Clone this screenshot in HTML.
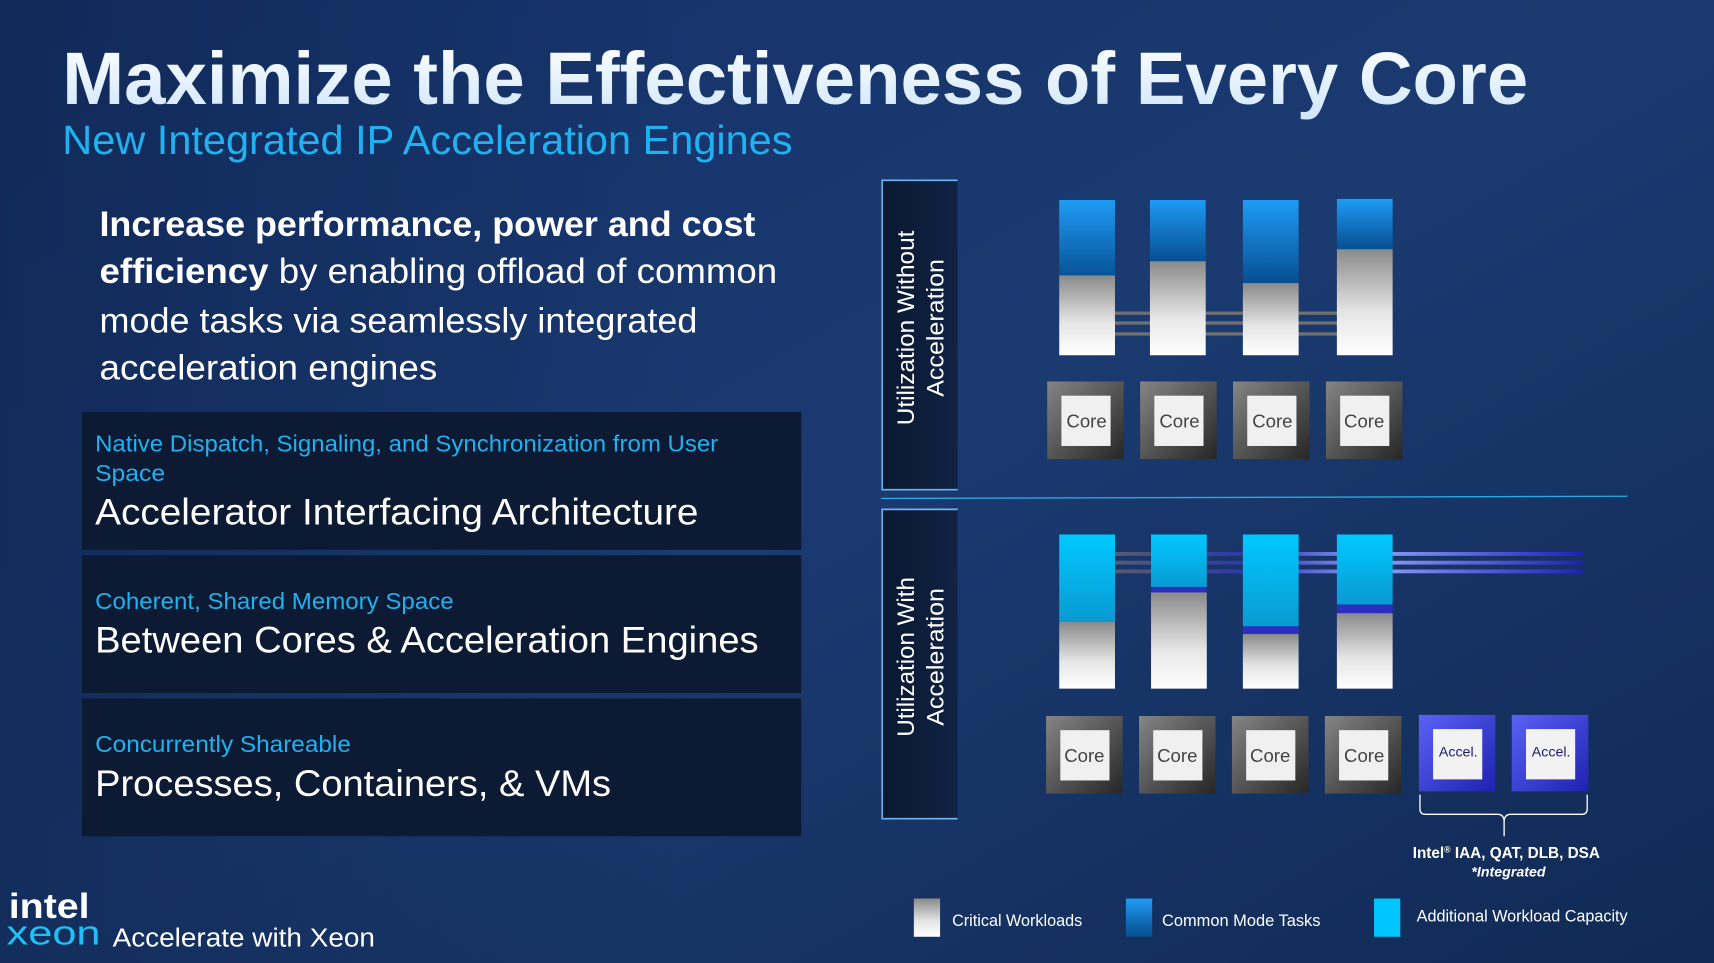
<!DOCTYPE html>
<html><head><meta charset="utf-8"><style>html,body{margin:0;padding:0;background:#142f5e}svg{display:block}</style></head><body>
<svg width="1714" height="963" viewBox="0 0 1568 881" preserveAspectRatio="none" xmlns="http://www.w3.org/2000/svg" font-family="Liberation Sans, sans-serif">
<defs>
<linearGradient id="bg" x1="0" y1="0" x2="1" y2="1"><stop offset="0" stop-color="#15326a"/><stop offset="0.5" stop-color="#1a3a70"/><stop offset="1" stop-color="#112a55"/></linearGradient>
<linearGradient id="bgl" x1="0" y1="0" x2="1" y2="0"><stop offset="0" stop-color="#0c2148" stop-opacity="0.5"/><stop offset="0.4" stop-color="#0c2148" stop-opacity="0"/></linearGradient>
<linearGradient id="ttl" x1="0" y1="0" x2="0" y2="1"><stop offset="0" stop-color="#ffffff"/><stop offset="1" stop-color="#cfe6fb"/></linearGradient>
<linearGradient id="blu" x1="0" y1="0" x2="0" y2="1"><stop offset="0" stop-color="#1f9bf5"/><stop offset="1" stop-color="#064d8f"/></linearGradient>
<linearGradient id="gry" x1="0" y1="0" x2="0" y2="1"><stop offset="0" stop-color="#8a8a8a"/><stop offset="0.6" stop-color="#e6e6e6"/><stop offset="1" stop-color="#ffffff"/></linearGradient>
<linearGradient id="cyn" x1="0" y1="0" x2="0" y2="1"><stop offset="0" stop-color="#00c8ff"/><stop offset="1" stop-color="#0a9ad2"/></linearGradient>
<linearGradient id="core" x1="0" y1="0" x2="1" y2="1"><stop offset="0" stop-color="#858585"/><stop offset="1" stop-color="#262626"/></linearGradient>
<linearGradient id="acc" x1="0" y1="0" x2="1" y2="1"><stop offset="0" stop-color="#5a62f5"/><stop offset="1" stop-color="#1f22b0"/></linearGradient>
<linearGradient id="lnb" x1="0" y1="0" x2="1" y2="0"><stop offset="0" stop-color="#555c70"/><stop offset="0.3" stop-color="#2a35b0"/><stop offset="0.55" stop-color="#8fa0f8"/><stop offset="1" stop-color="#1a22b8"/></linearGradient>
<linearGradient id="pnl" x1="0" y1="0" x2="1" y2="0"><stop offset="0" stop-color="#0a1830"/><stop offset="1" stop-color="#102344"/></linearGradient>
</defs>
<rect width="1568" height="881" fill="url(#bg)"/>
<rect width="1568" height="881" fill="url(#bgl)"/>

<text x="57" y="95" font-size="68" font-weight="bold" fill="url(#ttl)" textLength="1341" lengthAdjust="spacingAndGlyphs">Maximize the Effectiveness of Every Core</text>
<text x="57" y="141" font-size="37" fill="#1fb2f0" textLength="668" lengthAdjust="spacingAndGlyphs">New Integrated IP Acceleration Engines</text>

<g font-size="32" fill="#ffffff">
<text x="91" y="216" font-weight="bold" textLength="600" lengthAdjust="spacingAndGlyphs">Increase performance, power and cost</text>
<text x="91" y="259" textLength="620" lengthAdjust="spacingAndGlyphs"><tspan font-weight="bold">efficiency</tspan> by enabling offload of common</text>
<text x="91" y="304" textLength="547" lengthAdjust="spacingAndGlyphs">mode tasks via seamlessly integrated</text>
<text x="91" y="347" textLength="309" lengthAdjust="spacingAndGlyphs">acceleration engines</text>
</g>

<rect x="75" y="377" width="658" height="126" fill="#0c1a33"/>
<rect x="75" y="508" width="658" height="126" fill="#0c1a33"/>
<rect x="75" y="639" width="658" height="126" fill="#0c1a33"/>
<g fill="#1fb2f0" font-size="21">
<text x="87" y="413" textLength="570" lengthAdjust="spacingAndGlyphs">Native Dispatch, Signaling, and Synchronization from User</text>
<text x="87" y="440" textLength="64" lengthAdjust="spacingAndGlyphs">Space</text>
<text x="87" y="557" textLength="328" lengthAdjust="spacingAndGlyphs">Coherent, Shared Memory Space</text>
<text x="87" y="688" textLength="234" lengthAdjust="spacingAndGlyphs">Concurrently Shareable</text>
</g>
<g fill="#ffffff" font-size="34">
<text x="87" y="480" textLength="552" lengthAdjust="spacingAndGlyphs">Accelerator Interfacing Architecture</text>
<text x="87" y="597" textLength="607" lengthAdjust="spacingAndGlyphs">Between Cores &amp; Acceleration Engines</text>
<text x="87" y="728" textLength="472" lengthAdjust="spacingAndGlyphs">Processes, Containers, &amp; VMs</text>
</g>

<text x="8" y="840" font-size="32" font-weight="bold" fill="#ffffff" textLength="74" lengthAdjust="spacingAndGlyphs">intel</text>
<text x="6" y="864" font-size="31" fill="#1fc0f5" textLength="86" lengthAdjust="spacingAndGlyphs">xeon</text>
<text x="103" y="866" font-size="24" fill="#ffffff" textLength="240" lengthAdjust="spacingAndGlyphs">Accelerate with Xeon</text>

<!-- panels -->
<rect x="806" y="165" width="70" height="283" fill="url(#pnl)"/>
<path d="M876 165 H807 V448 H876" fill="none" stroke="#6fb4ee" stroke-width="1.5"/>
<rect x="806" y="466" width="70" height="283" fill="url(#pnl)"/>
<path d="M876 466 H807 V749 H876" fill="none" stroke="#6fb4ee" stroke-width="1.5"/>
<g fill="#ffffff" font-size="22" text-anchor="middle">
<text transform="translate(836,300) rotate(-90)" textLength="178" lengthAdjust="spacingAndGlyphs">Utilization Without</text>
<text transform="translate(863,300) rotate(-90)" textLength="126" lengthAdjust="spacingAndGlyphs">Acceleration</text>
<text transform="translate(836,601) rotate(-90)" textLength="146" lengthAdjust="spacingAndGlyphs">Utilization With</text>
<text transform="translate(863,601) rotate(-90)" textLength="126" lengthAdjust="spacingAndGlyphs">Acceleration</text>
</g>
<line x1="806" y1="456" x2="1489" y2="454" stroke="#2aa8e0" stroke-width="1.2"/>

<!-- top lines -->
<g fill="#707070">
<rect x="1020" y="285" width="204" height="3"/><rect x="1020" y="294" width="204" height="3"/><rect x="1020" y="304" width="204" height="3"/>
</g>
<!-- top bars -->
<rect x="969" y="183" width="51" height="75" fill="url(#blu)"/><rect x="969" y="252" width="51" height="73" fill="url(#gry)"/>
<rect x="1052" y="183" width="51" height="57" fill="url(#blu)"/><rect x="1052" y="239" width="51" height="86" fill="url(#gry)"/>
<rect x="1137" y="183" width="51" height="77" fill="url(#blu)"/><rect x="1137" y="259" width="51" height="66" fill="url(#gry)"/>
<rect x="1223" y="182" width="51" height="47" fill="url(#blu)"/><rect x="1223" y="228" width="51" height="97" fill="url(#gry)"/>

<g font-size="17" fill="#444" text-anchor="middle">
<g><rect x="958" y="349" width="70" height="71" fill="url(#core)"/><rect x="971" y="362" width="45" height="46" fill="#f0f0f0"/><text x="994" y="391">Core</text></g>
<g><rect x="1043" y="349" width="70" height="71" fill="url(#core)"/><rect x="1056" y="362" width="45" height="46" fill="#f0f0f0"/><text x="1079" y="391">Core</text></g>
<g><rect x="1128" y="349" width="70" height="71" fill="url(#core)"/><rect x="1141" y="362" width="45" height="46" fill="#f0f0f0"/><text x="1164" y="391">Core</text></g>
<g><rect x="1213" y="349" width="70" height="71" fill="url(#core)"/><rect x="1226" y="362" width="45" height="46" fill="#f0f0f0"/><text x="1248" y="391">Core</text></g>

<g><rect x="957" y="655" width="70" height="71" fill="url(#core)"/><rect x="970" y="668" width="45" height="46" fill="#f0f0f0"/><text x="992" y="697">Core</text></g>
<g><rect x="1042" y="655" width="70" height="71" fill="url(#core)"/><rect x="1055" y="668" width="45" height="46" fill="#f0f0f0"/><text x="1077" y="697">Core</text></g>
<g><rect x="1127" y="655" width="70" height="71" fill="url(#core)"/><rect x="1140" y="668" width="45" height="46" fill="#f0f0f0"/><text x="1162" y="697">Core</text></g>
<g><rect x="1212" y="655" width="70" height="71" fill="url(#core)"/><rect x="1225" y="668" width="45" height="46" fill="#f0f0f0"/><text x="1248" y="697">Core</text></g>
</g>
<g font-size="13" fill="#1a1a70" text-anchor="middle">
<rect x="1298" y="654" width="70" height="70" fill="url(#acc)"/><rect x="1311" y="667" width="45" height="46" fill="#f2f2f2"/><text x="1334" y="692">Accel.</text>
<rect x="1383" y="654" width="70" height="70" fill="url(#acc)"/><rect x="1396" y="667" width="45" height="46" fill="#f2f2f2"/><text x="1419" y="692">Accel.</text>
</g>

<!-- bottom lines -->
<g fill="url(#lnb)">
<rect x="1020" y="505" width="429" height="3.5"/><rect x="1020" y="513" width="429" height="3.5"/><rect x="1020" y="521" width="429" height="3.5"/>
</g>
<!-- bottom bars -->
<rect x="969" y="489" width="51" height="80" fill="url(#cyn)"/><rect x="969" y="569" width="51" height="61" fill="url(#gry)"/>
<rect x="1053" y="489" width="51" height="48" fill="url(#cyn)"/><rect x="1053" y="537" width="51" height="5" fill="#2a2fc0"/><rect x="1053" y="542" width="51" height="88" fill="url(#gry)"/>
<rect x="1137" y="489" width="51" height="84" fill="url(#cyn)"/><rect x="1137" y="573" width="51" height="7" fill="#2a2fc0"/><rect x="1137" y="580" width="51" height="50" fill="url(#gry)"/>
<rect x="1223" y="489" width="51" height="64" fill="url(#cyn)"/><rect x="1223" y="553" width="51" height="8" fill="#2a2fc0"/><rect x="1223" y="561" width="51" height="69" fill="url(#gry)"/>

<!-- bracket -->
<path d="M1299 727 V740 Q1299 745 1304 745 H1370 Q1376 745 1376 752 V765 M1376 752 Q1376 745 1382 745 H1447 Q1452 745 1452 740 V727" fill="none" stroke="#ffffff" stroke-width="1.2"/>
<text x="1378" y="785" font-size="14" font-weight="bold" fill="#fff" text-anchor="middle">Intel<tspan font-size="8" dy="-5">®</tspan><tspan dy="5"> IAA, QAT, DLB, DSA</tspan></text>
<text x="1380" y="802" font-size="13" font-weight="bold" font-style="italic" fill="#fff" text-anchor="middle">*Integrated</text>

<!-- legend -->
<rect x="836" y="822" width="24" height="35" fill="url(#gry)"/>
<text x="871" y="847" font-size="15" fill="#fff" textLength="119" lengthAdjust="spacingAndGlyphs">Critical Workloads</text>
<rect x="1030" y="822" width="24" height="35" fill="url(#blu)"/>
<text x="1063" y="847" font-size="15" fill="#fff" textLength="145" lengthAdjust="spacingAndGlyphs">Common Mode Tasks</text>
<rect x="1257" y="822" width="24" height="35" fill="#00c6ff"/>
<text x="1296" y="843" font-size="15" fill="#fff" textLength="193" lengthAdjust="spacingAndGlyphs">Additional Workload Capacity</text>
</svg>
</body></html>
